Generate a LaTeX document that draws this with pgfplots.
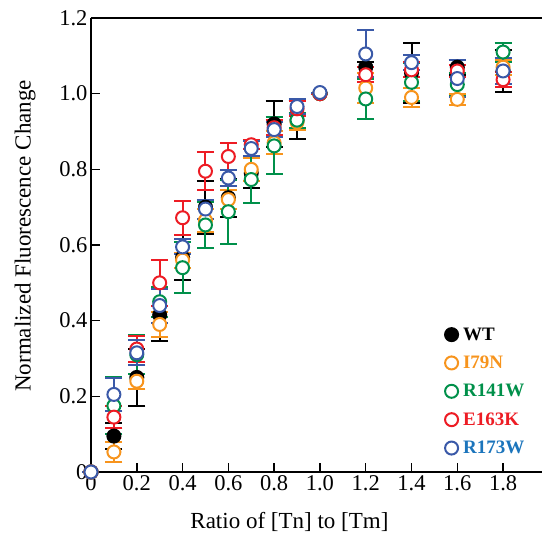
\documentclass[border=0pt]{standalone}
\usepackage{pgfplots}
\pgfplotsset{compat=1.18}
\usepackage{pgfplotstable}
\usepackage{fontspec}
\setmainfont{Liberation Serif}

\definecolor{cOrange}{HTML}{F7941D}
\definecolor{cGreen}{HTML}{00904A}
\definecolor{cRed}{HTML}{ED1C24}
\definecolor{cBlue}{HTML}{3A59A8}
\definecolor{cBlueTxt}{HTML}{1C75BC}

% x  y  err
\pgfplotstableread{
x y e
0 0 0
0.1 0.095 0.035
0.2 0.25 0.075
0.3 0.415 0.07
0.4 0.567 0.06
0.5 0.70 0.07
0.6 0.725 0.05
0.7 0.79 0.04
0.8 0.92 0.06
0.9 0.93 0.05
1.0 1.0 0
1.2 1.07 0.015
1.4 1.055 0.08
1.6 1.07 0.02
1.8 1.06 0.055
}\wt
\pgfplotstableread{
x y e
0 0 0
0.1 0.053 0.027
0.2 0.24 0.02
0.3 0.39 0.033
0.4 0.56 0.02
0.5 0.665 0.03
0.6 0.72 0.025
0.7 0.80 0.03
0.8 0.87 0.03
0.9 0.925 0.02
1.0 1.0 0
1.2 1.015 0.04
1.4 0.99 0.025
1.6 0.985 0.015
1.8 1.07 0.02
}\iseventynine
\pgfplotstableread{
x y e
0 0 0
0.1 0.175 0.075
0.2 0.31 0.052
0.3 0.45 0.04
0.4 0.54 0.067
0.5 0.653 0.06
0.6 0.688 0.085
0.7 0.773 0.062
0.8 0.862 0.075
0.9 0.93 0.02
1.0 1.0 0
1.2 0.986 0.052
1.4 1.03 0.05
1.6 1.024 0.03
1.8 1.11 0.025
}\rfourtyone
\pgfplotstableread{
x y e
0 0 0
0.1 0.145 0.03
0.2 0.325 0.035
0.3 0.50 0.06
0.4 0.672 0.045
0.5 0.795 0.05
0.6 0.834 0.035
0.7 0.865 0.012
0.8 0.91 0.02
0.9 0.96 0.02
1.0 1.0 0
1.2 1.05 0.02
1.4 1.063 0.02
1.6 1.06 0.015
1.8 1.037 0.02
}\esixtythree
\pgfplotstableread{
x y e
0 0 0
0.1 0.205 0.043
0.2 0.315 0.033
0.3 0.44 0.045
0.4 0.595 0.02
0.5 0.695 0.025
0.6 0.777 0.02
0.7 0.855 0.02
0.8 0.905 0.02
0.9 0.966 0.02
1.0 1.003 0
1.2 1.105 0.062
1.4 1.082 0.02
1.6 1.04 0.05
1.8 1.06 0.035
}\rseventythree

\pgfplotsset{
  ser/.style={only marks, mark=*, mark size=6.5pt,
    mark options={fill=white, draw=#1, line width=2pt},
    error bars/.cd, y dir=both, y explicit,
    error bar style={line width=2pt, #1},
    error mark options={rotate=90, line width=2pt, mark size=8.5pt, #1}},
}

\begin{document}
\begin{tikzpicture}
\begin{axis}[
  at={(0,0)}, anchor=south west,
  scale only axis, width=451pt, height=454pt,
  xmin=0, xmax=1.97, ymin=0, ymax=1.2,
  clip=false,
  axis x line*=box, axis y line*=left,
  axis line style={line width=1.6pt, -},
  xtick pos=left, ytick pos=left,
  tick align=inside, major tick length=9pt,
  tick style={line width=1.5pt, black},
  xtick={0,0.2,0.4,0.6,0.8,1.0,1.2,1.4,1.6,1.8},
  xticklabels={0,0.2,0.4,0.6,0.8,1.0,1.2,1.4,1.6,1.8},
  ytick={0,0.2,0.4,0.6,0.8,1.0,1.2},
  yticklabels={0,0.2,0.4,0.6,0.8,1.0,1.2},
  tick label style={font=\fontsize{22.5}{26}\selectfont},
  xlabel={Ratio of [Tn] to [Tm]},
  ylabel={Normalized Fluorescence Change},
  every axis x label/.style={at={(rel axis cs:0.44,-0.11)}, anchor=center,
    font=\fontsize{23}{26}\selectfont},
  every axis y label/.style={at={(rel axis cs:-0.146,0.52)}, anchor=center, rotate=90,
    font=\fontsize{23}{26}\selectfont},
  legend style={at={(rel axis cs:0.778,0.028)}, anchor=south west,
    draw=none, fill=none, row sep=10.3pt, column sep=3pt,
    font=\fontsize{19}{22}\selectfont\bfseries},
  legend cell align=left,
]
\addplot[only marks, mark=*, mark size=6.5pt, mark options={fill=black, draw=black, line width=2pt},
  error bars/.cd, y dir=both, y explicit,
  error bar style={line width=2pt, black},
  error mark options={rotate=90, line width=2pt, mark size=8.5pt, black}]
  table[x=x, y=y, y error=e] {\wt};
\addlegendentry{WT}
\addplot[ser=cOrange] table[x=x, y=y, y error=e] {\iseventynine};
\addlegendentry{\textcolor{cOrange}{I79N}}
\addplot[ser=cGreen] table[x=x, y=y, y error=e] {\rfourtyone};
\addlegendentry{\textcolor{cGreen}{R141W}}
\addplot[ser=cRed] table[x=x, y=y, y error=e] {\esixtythree};
\addlegendentry{\textcolor{cRed}{E163K}}
\addplot[ser=cBlue] table[x=x, y=y, y error=e] {\rseventythree};
\addlegendentry{\textcolor{cBlueTxt}{R173W}}
\end{axis}
\path (-91pt,-71pt) rectangle (451pt,472pt);
\end{tikzpicture}
\end{document}
